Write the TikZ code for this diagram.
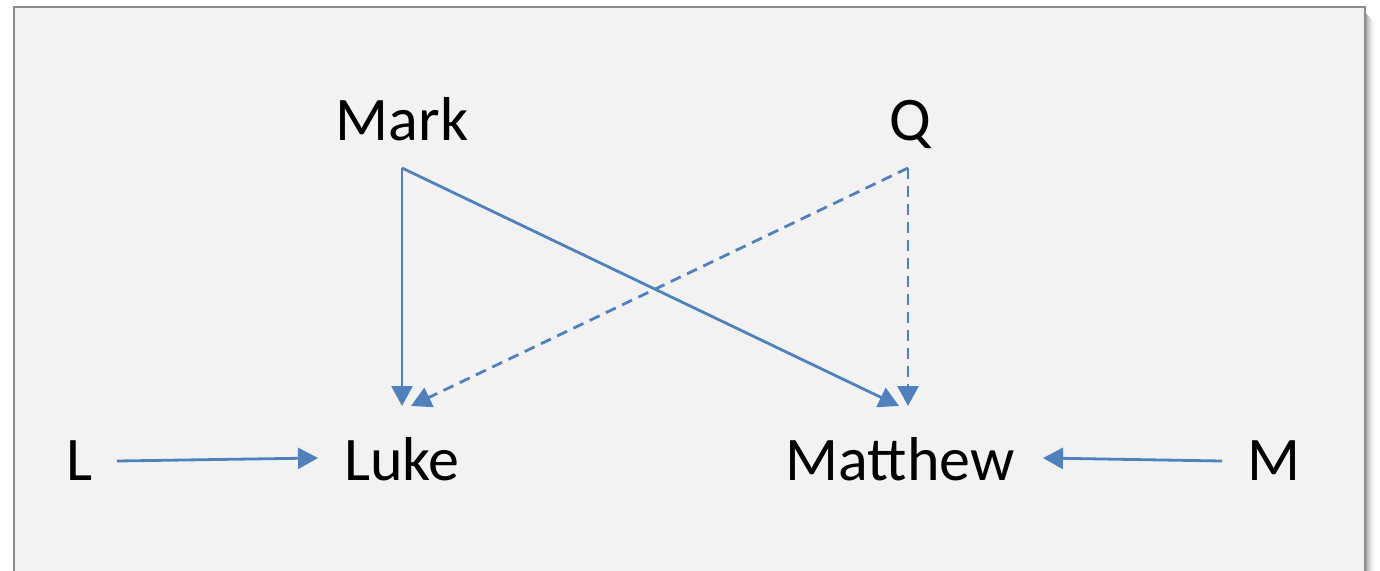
\documentclass[tikz,border=0pt]{standalone}
\usepackage{fontspec}
\setmainfont{Carlito}
\usetikzlibrary{arrows.meta}
\definecolor{arrowblue}{HTML}{4F81BD}
\definecolor{panel}{HTML}{F2F2F2}
\definecolor{frame}{HTML}{8C8C8C}
\begin{document}
\begin{tikzpicture}[x=1pt,y=-1pt,
  lbl/.style={anchor=base,inner sep=0pt,font=\fontsize{62}{70}\selectfont},
  conn/.style={draw=arrowblue,line width=2.8pt,-{Triangle[length=20pt,width=21pt]}},
  dconn/.style={conn,dash pattern=on 11pt off 7pt}]
\useasboundingbox (0,0) rectangle (1380,570);
% shadow
\foreach \i/\o in {1/0.40,2/0.34,3/0.28,4/0.22,5/0.17,6/0.13,7/0.09,8/0.06,9/0.04,10/0.02}{
  \fill[black,opacity=\o] ({1365+\i-1},{12+\i}) rectangle ({1365+\i},575);
}
\filldraw[fill=panel,draw=frame,line width=2pt] (14,7) rectangle (1365,580);
% labels
\node[lbl] (mark) at (402,140) {Mark};
\node[lbl] (q) at (910,140) {Q};
\node[lbl] (l) at (80,480) {L};
\node[lbl] (luke) at (402,480) {Luke};
\node[lbl] (matthew) at (900,480) {Matthew};
\node[lbl] (m) at (1274,480) {M};
% connector endpoints
\coordinate (markout) at (402,168);
\coordinate (qout) at (908,168);
\coordinate (lukeinA) at (402,406);
\coordinate (lukeinB) at (411,406);
\coordinate (mattinA) at (899,406);
\coordinate (mattinB) at (908,406);
\coordinate (lout) at (117,461);
\coordinate (lukeinL) at (318,458);
\coordinate (mout) at (1222,461);
\coordinate (mattinR) at (1043,458);
% connectors
\draw[conn] (markout) -- (lukeinA);
\draw[conn] (markout) -- (mattinA);
\draw[dconn] (qout) -- (lukeinB);
\draw[dconn] (qout) -- (mattinB);
\draw[conn] (lout) -- (lukeinL);
\draw[conn] (mout) -- (mattinR);
\end{tikzpicture}
\end{document}
